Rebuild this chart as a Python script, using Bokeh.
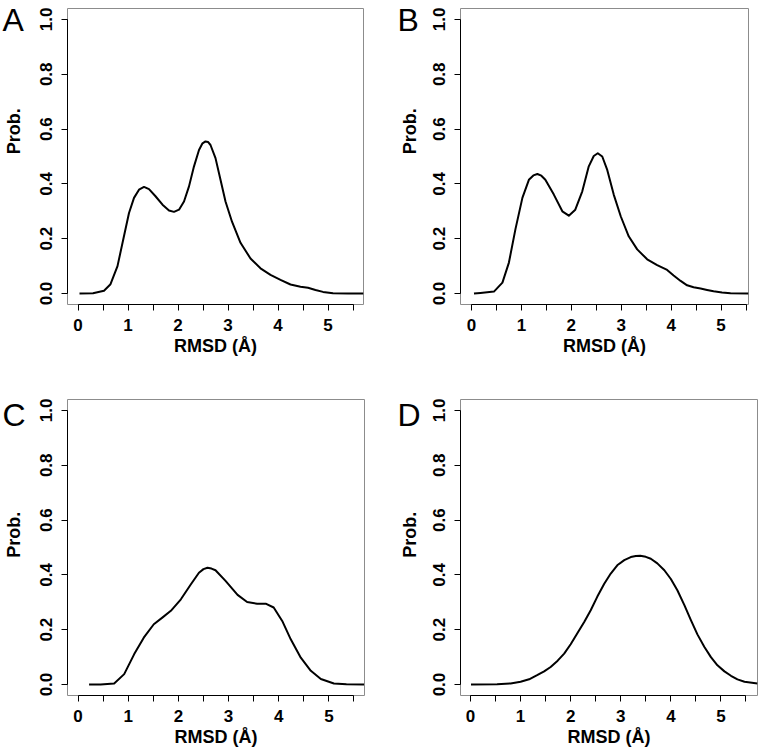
import math
from bokeh.plotting import figure
from bokeh.models import Range1d, FixedTicker
from bokeh.layouts import column, row
from bokeh.core.properties import value
from bokeh.embed import file_html
from bokeh.resources import INLINE

panel_letters = ["A", "B", "C", "D"]
x_ticks = [0, 1, 2, 3, 4, 5]
x_minor = [0.5, 1.5, 2.5, 3.5, 4.5, 5.5]
x_tick_labels = ["0", "1", "2", "3", "4", "5"]
y_ticks = [0.0, 0.2, 0.4, 0.6, 0.8, 1.0]
y_tick_labels = ["0.0", "0.2", "0.4", "0.6", "0.8", "1.0"]
x_title = "RMSD (Å)"
y_title = "Prob."

A_x = [0.03, 0.30, 0.52, 0.65, 0.79, 0.92, 1.02, 1.12, 1.22, 1.32, 1.42, 1.55, 1.69, 1.82, 1.92, 2.02, 2.12, 2.22, 2.32,
       2.42, 2.49, 2.55, 2.60, 2.65, 2.75, 2.85, 2.95, 3.08, 3.25, 3.45, 3.65, 3.85, 4.05, 4.25, 4.45, 4.60, 4.75, 4.90,
       5.10, 5.40, 5.71]
A_y = [0.000, 0.001, 0.010, 0.034, 0.100, 0.210, 0.294, 0.349, 0.379, 0.389, 0.381, 0.355, 0.324, 0.303, 0.298, 0.306,
       0.336, 0.391, 0.464, 0.524, 0.548, 0.555, 0.553, 0.542, 0.494, 0.415, 0.336, 0.262, 0.185, 0.128, 0.092, 0.068,
       0.050, 0.033, 0.025, 0.021, 0.013, 0.006, 0.001, 0.000, 0.000]

B_x = [0.05, 0.18, 0.45, 0.62, 0.75, 0.88, 1.02, 1.15, 1.24, 1.32, 1.40, 1.48, 1.65, 1.82, 1.95, 2.08, 2.22, 2.35, 2.45,
       2.53, 2.62, 2.72, 2.85, 2.99, 3.15, 3.32, 3.52, 3.72, 3.92, 4.05, 4.19, 4.32, 4.45, 4.59, 4.72, 4.85, 5.02, 5.19,
       5.55]
B_y = [0.000, 0.002, 0.007, 0.040, 0.113, 0.234, 0.349, 0.415, 0.431, 0.436, 0.430, 0.415, 0.361, 0.300, 0.284, 0.306,
       0.373, 0.464, 0.502, 0.512, 0.500, 0.451, 0.361, 0.282, 0.209, 0.161, 0.125, 0.104, 0.086, 0.066, 0.046, 0.030,
       0.023, 0.018, 0.013, 0.008, 0.004, 0.001, 0.000]

C_x = [0.22, 0.45, 0.72, 0.92, 1.12, 1.31, 1.51, 1.68, 1.85, 2.05, 2.25, 2.41, 2.50, 2.58, 2.66, 2.74, 2.94, 3.18, 3.37,
       3.57, 3.74, 3.90, 4.07, 4.24, 4.44, 4.64, 4.84, 5.10, 5.35, 5.70]
C_y = [0.000, 0.000, 0.004, 0.038, 0.111, 0.171, 0.220, 0.244, 0.269, 0.311, 0.366, 0.408, 0.421, 0.426, 0.423, 0.417,
       0.378, 0.327, 0.301, 0.295, 0.295, 0.281, 0.232, 0.165, 0.098, 0.050, 0.020, 0.004, 0.001, 0.000]

D_x = [0.01, 0.53, 0.80, 1.00, 1.17, 1.33, 1.47, 1.60, 1.74, 1.87, 2.00, 2.13, 2.27, 2.40, 2.53, 2.67, 2.80, 2.93, 3.07,
       3.20, 3.30, 3.39, 3.50, 3.60, 3.73, 3.87, 4.00, 4.13, 4.27, 4.40, 4.53, 4.67, 4.80, 4.93, 5.07, 5.20, 5.33, 5.47,
       5.73]
D_y = [0.000, 0.001, 0.004, 0.010, 0.019, 0.034, 0.048, 0.064, 0.087, 0.113, 0.147, 0.186, 0.228, 0.271, 0.320, 0.368,
       0.405, 0.435, 0.454, 0.465, 0.469, 0.470, 0.466, 0.459, 0.442, 0.417, 0.385, 0.344, 0.290, 0.235, 0.183, 0.137,
       0.100, 0.070, 0.048, 0.032, 0.019, 0.010, 0.004]

FONT = "Liberation Sans"


def make_strip(letter, w, h, letter_x, letter_mid, title_x, title_y):
    """Narrow canvas left of a panel carrying the panel letter and the y title."""
    s = figure(output_backend="svg", toolbar_location=None, width=w, height=h,
               min_border=0, x_axis_location=None, y_axis_location=None,
               x_range=Range1d(0, w), y_range=Range1d(0, h))
    s.grid.visible = False
    s.outline_line_color = None
    s.background_fill_color = "white"
    s.border_fill_color = "white"
    s.text(x=[letter_x], y=[h - letter_mid], text=[letter], text_font=value(FONT),
           text_font_size=value("32px"), text_color="black",
           text_baseline="middle", text_align="left")
    s.text(x=[title_x], y=[h - title_y], text=[y_title], text_font=value(FONT),
           text_font_size=value("18px"), text_font_style="bold", text_color="black",
           text_baseline="middle", text_align="center", angle=math.pi / 2)
    return s


def make_panel(xs, ys, xr, left, fw, right, top, bottom):
    p = figure(output_backend="svg", toolbar_location=None,
               frame_width=fw, frame_height=296,
               min_border_left=left, min_border_right=right,
               min_border_top=top, min_border_bottom=bottom,
               x_range=Range1d(*xr), y_range=Range1d(-0.04, 1.04),
               background_fill_color="white", border_fill_color="white")
    p.grid.visible = False
    p.outline_line_color = "#8c8c8c"
    p.outline_line_width = 1
    p.line(xs, ys, line_color="black", line_width=2.0, line_join="round")

    xa = p.xaxis[0]
    xa.ticker = FixedTicker(ticks=x_ticks, minor_ticks=x_minor)
    xa.major_label_overrides = {t: s for t, s in zip(x_ticks, x_tick_labels)}
    xa.bounds = (0, 5.5)
    xa.axis_label = x_title
    ya = p.yaxis[0]
    ya.ticker = FixedTicker(ticks=y_ticks, minor_ticks=[])
    ya.major_label_overrides = {t: s for t, s in zip(y_ticks, y_tick_labels)}
    ya.bounds = (0, 1)
    ya.major_label_orientation = "vertical"

    for ax in (xa, ya):
        ax.axis_line_color = "black"
        ax.axis_line_width = 1
        ax.major_tick_in = 0
        ax.major_tick_out = 6
        ax.minor_tick_in = 0
        ax.minor_tick_out = 6
        ax.major_tick_line_color = "black"
        ax.minor_tick_line_color = "black"
        ax.major_label_text_font = FONT
        ax.major_label_text_font_style = "bold"
        ax.major_label_text_font_size = "17px"
        ax.major_label_text_color = "black"
        ax.axis_label_text_font = FONT
        ax.axis_label_text_font_style = "bold"
        ax.axis_label_text_font_size = "18px"
        ax.axis_label_text_color = "black"
    xa.major_label_standoff = 8
    xa.axis_label_standoff = 2
    ya.major_label_standoff = 9
    return p


# top row: cell height 8 + 296 + 72 = 376 ; bottom row: 23 + 296 + 55 = 374
pA = make_panel(A_x, A_y, (-0.21, 5.71), 39, 296, 17, 8, 72)
pB = make_panel(B_x, B_y, (-0.22, 5.55), 40, 288, 12, 8, 72)
pC = make_panel(C_x, C_y, (-0.21, 5.71), 39, 297, 16, 23, 55)
pD = make_panel(D_x, D_y, (-0.20, 5.73), 40, 297, 2, 23, 55)

sA = make_strip(panel_letters[0], 28, 376, 2, 14.5, 13.5, 156)
sB = make_strip(panel_letters[1], 40, 376, 17, 14.5, 29.5, 156)
sC = make_strip(panel_letters[2], 28, 374, 2, 20, 13.5, 171)
sD = make_strip(panel_letters[3], 40, 374, 17, 20, 29.5, 171)

layout = column(row(sA, pA, sB, pB), row(sC, pC, sD, pD))

open("out.html", "w").write(file_html(layout, INLINE))
